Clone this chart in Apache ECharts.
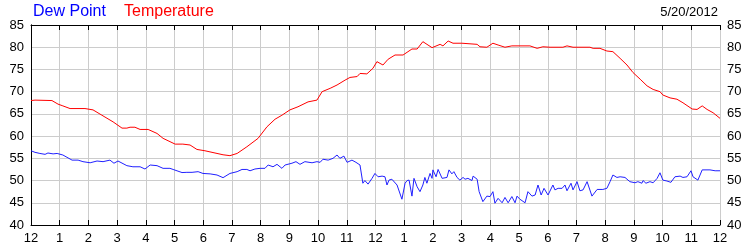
<!DOCTYPE html>
<html>
<head>
<meta charset="utf-8">
<script src="https://cdn.jsdelivr.net/npm/echarts@6/dist/echarts.min.js"></script>
<style>html,body{margin:0;padding:0;background:#fff}#c{width:750px;height:250px}</style>
</head>
<body>
<div id="c"></div>
<script>
const dateLabel = '5/20/2012';
const legendNames = ['Dew Point', 'Temperature'];
const hourLabels = ['12','1','2','3','4','5','6','7','8','9','10','11','12','1','2','3','4','5','6','7','8','9','10','11','12'];

const tempHours = [0,0.14,0.73,0.94,1.11,1.36,1.88,2.16,2.47,2.86,3.17,3.34,3.45,3.62,3.80,4.08,4.39,4.60,5.02,5.29,5.54,5.78,6.06,6.34,6.69,6.93,7.18,7.52,7.91,8.22,8.50,8.74,9.02,9.30,9.65,9.96,10.14,10.42,10.66,10.94,11.11,11.36,11.46,11.70,11.91,12.05,12.26,12.44,12.68,12.96,13.27,13.45,13.65,13.97,14.25,14.35,14.53,14.70,15.01,15.54,15.64,15.88,16.09,16.27,16.51,16.75,17.38,17.63,17.83,18.08,18.53,18.67,18.88,19.47,19.58,19.82,20.06,20.27,20.52,20.76,20.97,21.22,21.46,21.67,21.91,22.01,22.26,22.50,22.71,23.03,23.20,23.38,23.55,23.76,24.0];
const tempValues = [68.0,68.1,68.0,67.2,66.8,66.2,66.2,65.9,64.7,63.2,61.8,61.8,62.0,62.0,61.5,61.5,60.6,59.5,58.2,58.2,58.0,57.0,56.7,56.3,55.8,55.6,56.1,57.6,59.5,62.1,63.8,64.7,65.9,66.6,67.7,68.1,70.0,70.75,71.5,72.6,73.2,73.4,74.1,74.0,75.25,76.75,76.0,77.3,78.25,78.25,79.6,79.6,81.25,79.9,80.65,80.3,81.4,80.9,80.9,80.65,80.1,80.0,80.9,80.5,80.0,80.3,80.3,79.75,80.1,80.0,80.0,80.3,80.0,80.0,79.75,79.75,79.15,79.0,77.5,76.0,74.3,72.8,71.3,70.5,70.0,69.25,68.6,68.3,67.5,66.1,66.0,66.8,66.0,65.25,64.0];

const dewHours = [0,0.14,0.31,0.49,0.59,0.77,0.91,1.11,1.43,1.64,1.81,2.06,2.30,2.51,2.75,2.89,3.03,3.34,3.55,3.80,3.97,4.15,4.39,4.60,4.84,4.95,5.26,5.43,5.61,5.82,5.99,6.24,6.48,6.69,6.93,7.18,7.35,7.52,7.63,7.80,7.98,8.15,8.26,8.43,8.57,8.74,8.85,9.09,9.23,9.37,9.54,9.79,9.96,10.07,10.17,10.35,10.52,10.66,10.76,10.90,11.01,11.18,11.32,11.46,11.56,11.63,11.74,11.88,11.98,12.09,12.23,12.33,12.40,12.47,12.57,12.75,12.92,13.03,13.10,13.17,13.27,13.34,13.45,13.55,13.65,13.72,13.79,13.90,13.97,14.00,14.11,14.18,14.32,14.49,14.56,14.66,14.73,14.84,14.94,15.05,15.12,15.22,15.36,15.40,15.54,15.61,15.74,15.88,15.99,16.09,16.16,16.27,16.41,16.51,16.62,16.75,16.86,16.93,17.03,17.21,17.31,17.45,17.56,17.66,17.77,17.87,18.01,18.18,18.25,18.36,18.50,18.60,18.67,18.81,18.88,19.02,19.12,19.23,19.37,19.54,19.72,19.92,20.06,20.17,20.27,20.41,20.52,20.69,20.86,21.04,21.14,21.28,21.32,21.42,21.56,21.67,21.81,21.91,22.01,22.15,22.29,22.43,22.61,22.71,22.85,22.99,23.06,23.23,23.38,23.65,23.83,24.0];
const dewValues = [56.7,56.35,56.1,55.9,56.2,56.0,56.1,55.75,54.6,54.6,54.25,54.0,54.4,54.25,54.6,53.9,54.4,53.35,53.1,53.1,52.6,53.5,53.35,52.75,52.75,52.5,51.8,51.85,51.85,52.0,51.6,51.5,51.25,50.65,51.6,52.0,52.5,52.5,52.2,52.6,52.75,52.75,53.5,53.1,53.65,52.75,53.5,53.9,54.25,53.65,54.25,54.0,54.25,54.1,54.8,54.6,55.0,55.75,55.0,55.5,54.1,54.6,54.1,53.5,49.4,50.0,49.2,50.5,51.6,50.85,51.0,50.85,49.0,50.1,50.3,49.0,45.8,49.4,50.0,50.1,46.5,50.5,48.6,47.5,49.0,50.7,49.4,51.6,50.5,52.4,50.85,52.5,50.5,50.7,52.4,51.5,52.0,50.7,50.1,50.7,50.3,50.5,50.0,51.0,50.3,47.5,45.25,46.5,46.4,47.5,44.9,46.0,45.0,46.2,45.0,46.4,45.0,46.5,45.8,45.0,47.5,46.5,46.75,49.0,46.75,48.25,46.75,49.0,47.9,48.25,48.25,49.0,47.7,49.4,47.9,49.75,47.7,47.9,49.75,46.5,48.0,48.0,48.25,49.75,51.25,50.7,50.85,50.7,49.75,49.5,49.75,49.4,50.0,49.4,49.75,49.5,50.5,51.75,50.1,49.9,49.6,50.85,51.0,50.7,50.85,52.2,50.85,50.1,52.4,52.4,52.2,52.2];

const zip = (a, b) => a.map((v, i) => [v, b[i]]);
const font = 'Arial, "Liberation Sans", sans-serif';
const chart = echarts.init(document.getElementById('c'), null, {renderer: 'canvas'});
const yCommon = {
  type: 'value', min: 40, max: 85, interval: 5,
  axisLine: {show: true, lineStyle: {color: '#000', width: 1}},
  axisTick: {show: false},
  axisLabel: {color: '#000', fontSize: 13, fontFamily: font, margin: 7}
};
chart.setOption({
  animation: false,
  backgroundColor: '#fff',
  grid: {left: 31, right: 30, top: 25, bottom: 25, containLabel: false},
  graphic: [
    {type: 'text', left: 33, top: 4, style: {text: legendNames[0], fill: '#0000ff', font: '16px ' + font}},
    {type: 'text', left: 124, top: 4, style: {text: legendNames[1], fill: '#ff0000', font: '16px ' + font}},
    {type: 'text', right: 32, top: 6, style: {text: dateLabel, fill: '#000', font: '13px ' + font}}
  ],
  xAxis: [
    {
      type: 'value', min: 0, max: 24, interval: 1, position: 'bottom',
      axisLine: {show: true, onZero: false, lineStyle: {color: '#000', width: 1}},
      axisTick: {show: true, inside: true, length: 5, lineStyle: {color: '#000'}},
      axisLabel: {color: '#000', fontSize: 13, fontFamily: font, margin: 7,
        formatter: v => hourLabels[Math.round(v)]},
      splitLine: {show: true, lineStyle: {color: '#cccccc', width: 1}}
    },
    {
      type: 'value', min: 0, max: 24, interval: 1, position: 'top',
      axisLine: {show: true, onZero: false, lineStyle: {color: '#000', width: 1}},
      axisTick: {show: true, inside: true, length: 5, lineStyle: {color: '#000'}},
      axisLabel: {show: false},
      splitLine: {show: false}
    }
  ],
  yAxis: [
    Object.assign({}, yCommon, {position: 'left', splitLine: {show: true, lineStyle: {color: '#cccccc', width: 1}}}),
    Object.assign({}, yCommon, {position: 'right', splitLine: {show: false}})
  ],
  series: [
    {name: legendNames[0], type: 'line', xAxisIndex: 0, yAxisIndex: 0, data: zip(dewHours, dewValues),
      showSymbol: false, lineStyle: {color: '#2020ff', width: 1}, itemStyle: {color: '#2020ff'}},
    {name: legendNames[1], type: 'line', xAxisIndex: 0, yAxisIndex: 0, data: zip(tempHours, tempValues),
      showSymbol: false, lineStyle: {color: '#ff0000', width: 1}, itemStyle: {color: '#ff0000'}}
  ]
});
</script>
</body>
</html>
